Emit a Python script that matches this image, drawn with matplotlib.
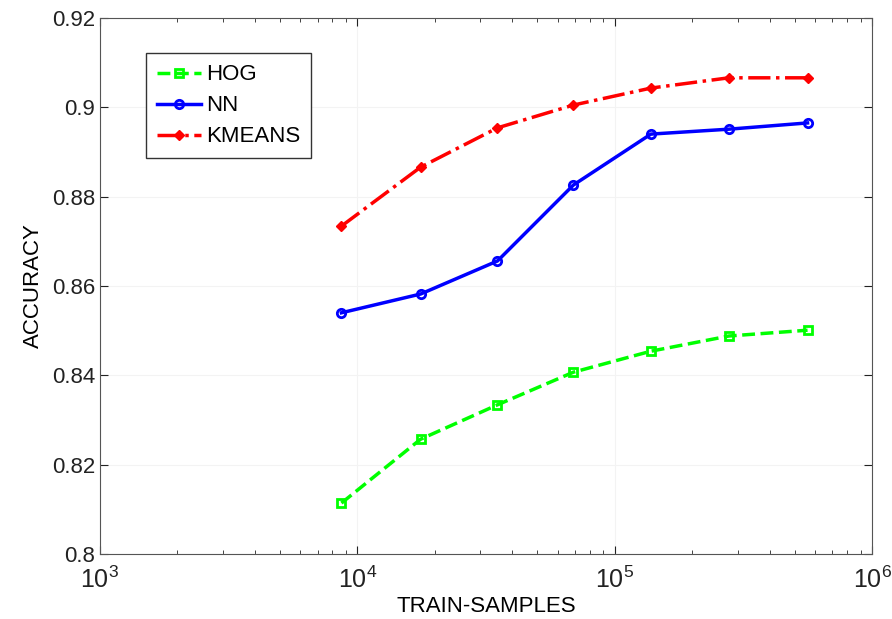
import numpy as np
import matplotlib.pyplot as plt

plt.rcParams['font.family'] = ['Liberation Sans', 'DejaVu Sans']

train_samples = [8670, 17600, 35000, 69000, 138000, 277000, 560000]
hog = [0.8114, 0.8257, 0.8334, 0.8407, 0.8454, 0.8488, 0.8501]
nn = [0.8540, 0.8582, 0.8656, 0.8826, 0.8940, 0.8951, 0.8965]
kmeans = [0.8734, 0.8866, 0.8954, 0.9005, 0.9043, 0.9066, 0.9066]

fig = plt.figure(figsize=(8.92, 6.19), dpi=100)
ax = fig.add_axes([0.112, 0.105, 0.866, 0.866])

ax.plot(train_samples, hog, color='#00ff00', linestyle='--', linewidth=2.5,
        marker='s', markersize=6, markerfacecolor='none', markeredgewidth=2, label='HOG')
ax.plot(train_samples, nn, color='#0000ff', linestyle='-', linewidth=2.5,
        marker='o', markersize=6, markerfacecolor='none', markeredgewidth=2, label='NN')
ax.plot(train_samples, kmeans, color='#ff0000', linestyle='-.', linewidth=2.5,
        marker='D', markersize=5, label='KMEANS')

ax.set_xscale('log')
ax.set_xlim(1e3, 1e6)
ax.set_ylim(0.8, 0.92)
ax.set_yticks(np.arange(0.8, 0.921, 0.02))
ax.set_yticklabels(['0.8', '0.82', '0.84', '0.86', '0.88', '0.9', '0.92'])
ax.grid(True, which='major', color='#f3f3f3', linewidth=0.8)

ax.tick_params(axis='both', which='both', direction='in', top=True, right=True,
               labelsize=16, colors='#222222')
ax.tick_params(axis='x', which='major', labelsize=18, pad=9)
ax.tick_params(which='major', length=6)
ax.tick_params(which='minor', length=3)
for s in ax.spines.values():
    s.set_color('#555555')

ax.set_xlabel('TRAIN-SAMPLES', fontsize=16, labelpad=2)
ax.set_ylabel('ACCURACY', fontsize=16, labelpad=6)

leg = ax.legend(loc='upper left', bbox_to_anchor=(0.045, 0.955), fontsize=16,
                fancybox=False, edgecolor='#333333', framealpha=1,
                handlelength=2.0, handletextpad=0.2, borderpad=0.5, labelspacing=0.45)
leg.get_frame().set_linewidth(1.0)

plt.savefig('out.png', dpi=100)
